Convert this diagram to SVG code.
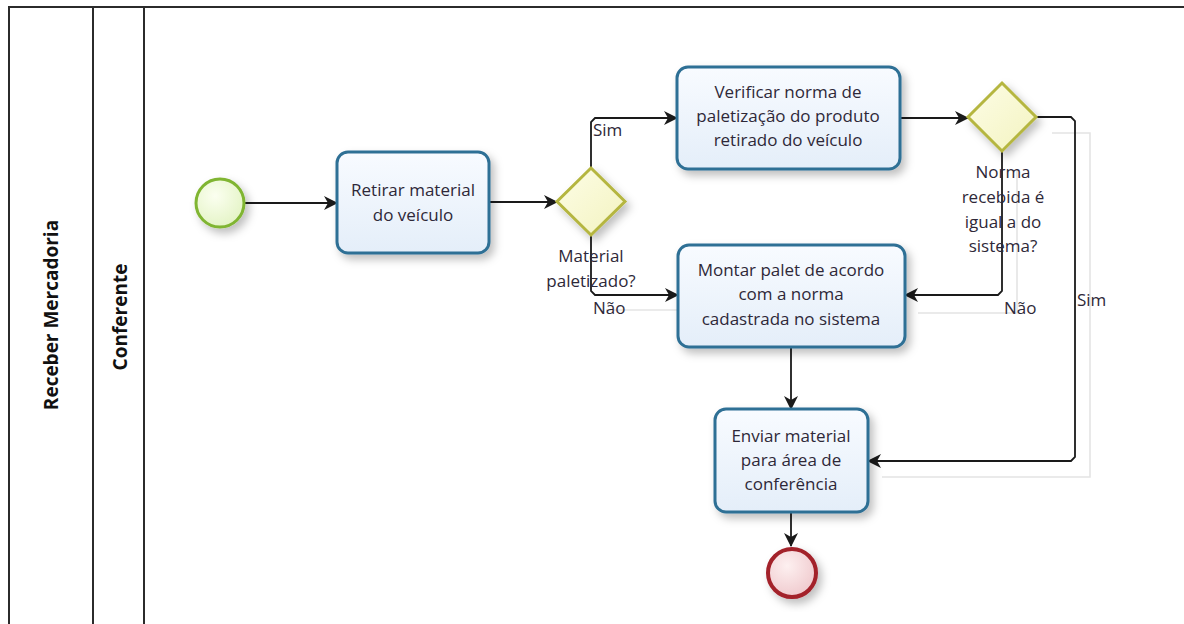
<svg xmlns="http://www.w3.org/2000/svg" width="1184" height="624" viewBox="0 0 1184 624">
<style>
.lane{fill:none;stroke:#2b2b2b;stroke-width:2}
.lanelbl{font-family:"Open Sans","Noto Sans",sans-serif;font-size:19px;font-weight:bold;fill:#111;text-anchor:middle}
.task{fill:url(#gTask);stroke:#2f6f95;stroke-width:3;filter:url(#sh)}
.gw{fill:url(#gGw);stroke:#b5b640;stroke-width:3;filter:url(#sh)}
.t{font-family:"Open Sans","Noto Sans",sans-serif;font-size:17px;fill:#2e2838;text-anchor:middle}
.tl{font-family:"Open Sans","Noto Sans",sans-serif;font-size:17px;fill:#2e2838}
.c{fill:none;stroke:#1a1a1a;stroke-width:1.8;marker-end:url(#arr)}
.cs{fill:none;stroke:#e4e4e4;stroke-width:1.6}
</style>
<defs>
<linearGradient id="gTask" x1="0" y1="0" x2="0" y2="1"><stop offset="0" stop-color="#f8fbff"/><stop offset="1" stop-color="#e4eef9"/></linearGradient>
<linearGradient id="gGw" x1="0" y1="0" x2="1" y2="1"><stop offset="0" stop-color="#fdfde6"/><stop offset="1" stop-color="#f3f3c0"/></linearGradient>
<radialGradient id="gStart" cx="0.4" cy="0.35" r="0.7"><stop offset="0" stop-color="#fbfff0"/><stop offset="1" stop-color="#e3f3c4"/></radialGradient>
<radialGradient id="gEnd" cx="0.4" cy="0.35" r="0.7"><stop offset="0" stop-color="#fdf0f0"/><stop offset="1" stop-color="#efc8cc"/></radialGradient>
<filter id="sh" x="-20%" y="-20%" width="150%" height="150%"><feDropShadow dx="4" dy="5" stdDeviation="4" flood-color="#000" flood-opacity="0.25"/></filter>
<marker id="arr" viewBox="0 0 14 14" refX="13" refY="7" markerWidth="14" markerHeight="14" markerUnits="userSpaceOnUse" orient="auto"><path d="M0,0 L14,7 L0,14 L4,7 Z" fill="#1a1a1a"/></marker>
</defs>
<rect width="1184" height="624" fill="#fff"/>
<g id="pool">
<path class="lane" d="M1190,7 H9 V630"/>
<line class="lane" x1="93" y1="7" x2="93" y2="630"/>
<line class="lane" x1="144" y1="7" x2="144" y2="630"/>
<text class="lanelbl" transform="translate(58,315) rotate(-90)">Receber Mercadoria</text>
<text class="lanelbl" transform="translate(127,317) rotate(-90)">Conferente</text>
</g>
<g id="connectors">
<path class="cs" d="M606,310 H690"/>
<path class="cs" d="M918,313 H1017 V170"/>
<path class="cs" d="M882,477 H1090 V133 H1052"/>
<path class="c" d="M245,203 H337"/>
<path class="c" d="M489,202 H557"/>
<path class="c" d="M591,168 V122 L595,118 H677"/>
<path class="c" d="M591,235 V291 L595,295 H678"/>
<path class="c" d="M900,118 H968"/>
<path class="c" d="M1002,152 V291 L998,295 H905"/>
<path class="c" d="M1036,117 H1071 L1075,121 V457 L1071,461 H868"/>
<path class="c" d="M791,347 V409"/>
<path class="c" d="M791,512 V546"/>
<text class="tl" x="593" y="136">Sim</text>
<text class="tl" x="593" y="314">Não</text>
<text class="tl" x="1004" y="314">Não</text>
<text class="tl" x="1077" y="306">Sim</text>
</g>
<g id="start">
<circle cx="220" cy="203" r="24" fill="url(#gStart)" stroke="#80b532" stroke-width="3" filter="url(#sh)"/>
</g>
<g id="task1">
<rect class="task" x="337" y="152" width="152" height="101" rx="11"/>
<text class="t" x="413" y="196">Retirar material</text>
<text class="t" x="413" y="221">do veículo</text>
</g>
<g id="gw1">
<polygon class="gw" points="591,168 625,201.5 591,235 557,201.5"/>
<text class="t" x="591" y="262">Material</text>
<text class="t" x="591" y="287">paletizado?</text>
</g>
<g id="task2">
<rect class="task" x="677" y="67" width="223" height="102" rx="11"/>
<text class="t" x="788" y="98">Verificar norma de</text>
<text class="t" x="788" y="122">paletização do produto</text>
<text class="t" x="788" y="146">retirado do veículo</text>
</g>
<g id="gw2">
<polygon class="gw" points="1002,83 1036,117 1002,151 968,117"/>
<text class="t" x="1003" y="178">Norma</text>
<text class="t" x="1003" y="203">recebida é</text>
<text class="t" x="1003" y="228">igual a do</text>
<text class="t" x="1003" y="252">sistema?</text>
</g>
<g id="task3">
<rect class="task" x="678" y="245" width="227" height="102" rx="11"/>
<text class="t" x="791" y="276">Montar palet de acordo</text>
<text class="t" x="791" y="300">com a norma</text>
<text class="t" x="791" y="325">cadastrada no sistema</text>
</g>
<g id="task4">
<rect class="task" x="715" y="409" width="153" height="103" rx="11"/>
<text class="t" x="791" y="442">Enviar material</text>
<text class="t" x="791" y="466">para área de</text>
<text class="t" x="791" y="490">conferência</text>
</g>
<g id="end">
<circle cx="792" cy="573" r="24" fill="url(#gEnd)" stroke="#a3202a" stroke-width="4" filter="url(#sh)"/>
</g>
</svg>
